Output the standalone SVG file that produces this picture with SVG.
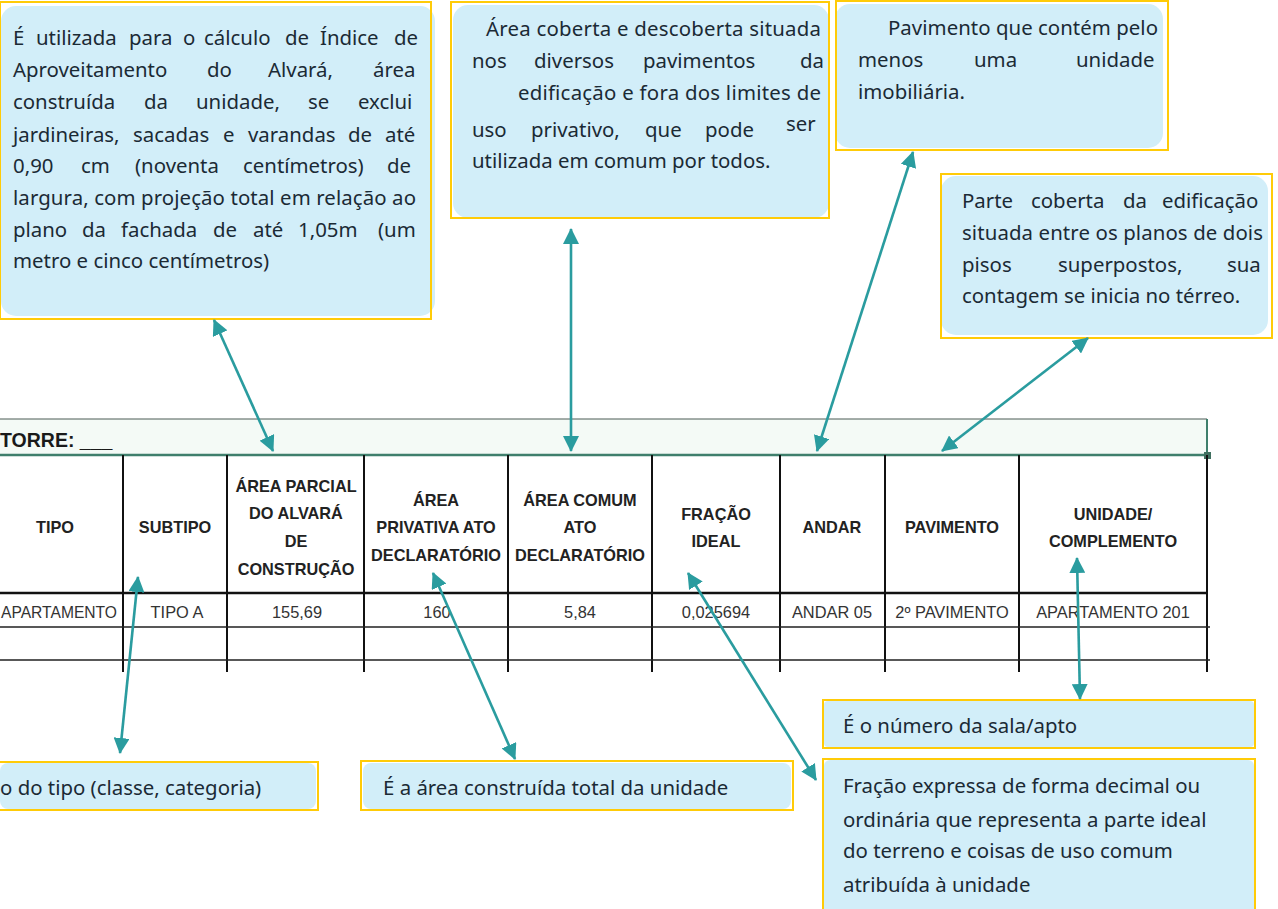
<svg xmlns="http://www.w3.org/2000/svg" width="1278" height="909" viewBox="0 0 1278 909">
<style>
.box{fill:#d2eef9;}
.frame{fill:none;stroke:#ffcb08;stroke-width:2;}
.t{font-family:"Noto Sans","Liberation Sans",sans-serif;font-size:20.4px;fill:#1b2a35;}
.h{font-family:"Liberation Sans",Arial,sans-serif;font-size:16.3px;font-weight:bold;fill:#222;text-anchor:middle;}
.d{font-family:"Liberation Sans",Arial,sans-serif;font-size:16.4px;fill:#333;text-anchor:middle;}
.g{stroke:#111;stroke-width:2;fill:none;}
.g2{stroke:#222;stroke-width:1.4;fill:none;}
.arr{stroke:#2a9c9f;stroke-width:2.6;fill:none;marker-start:url(#ah);marker-end:url(#ah);}
</style>
<defs>
<marker id="ah" viewBox="0 0 16 16" refX="15" refY="8" markerWidth="16" markerHeight="16" markerUnits="userSpaceOnUse" orient="auto-start-reverse">
<path d="M0,0 L16,8 L0,16 z" fill="#2a9c9f"/>
</marker>
</defs>
<rect width="1278" height="909" fill="#ffffff"/>

<g id="table">
<rect x="0" y="419" width="1207" height="36" fill="#f4faf6"/>
<line x1="0" y1="419" x2="1207" y2="419" stroke="#4a5a55" stroke-width="1"/>
<text x="0" y="447" font-family="Liberation Sans,Arial,sans-serif" font-size="19.5" font-weight="bold" fill="#1a1a1a">TORRE: ___</text>
<line x1="0" y1="455" x2="1207" y2="455" stroke="#3f7f6c" stroke-width="2.5"/>
<line x1="1207" y1="419" x2="1207" y2="455" stroke="#3f7f6c" stroke-width="2"/>
<rect x="1204" y="452" width="7" height="7" fill="#3f6f5f"/>
<path class="g" d="M123,455V672M227,455V672M364,455V672M508,455V672M652,455V672M780,455V672M885,455V672M1019,455V672M1207,455V672"/>
<line x1="0" y1="593" x2="1207" y2="593" stroke="#111" stroke-width="2.6"/>
<path class="g2" d="M0,627H1210M0,660H1210"/>
<text class="h" x="55" y="533">TIPO</text>
<text class="h" x="175" y="533">SUBTIPO</text>
<text class="h" x="296" y="492">ÁREA PARCIAL</text>
<text class="h" x="296" y="519">DO ALVARÁ</text>
<text class="h" x="296" y="547">DE</text>
<text class="h" x="296" y="575">CONSTRUÇÃO</text>
<text class="h" x="436" y="506">ÁREA</text>
<text class="h" x="436" y="533">PRIVATIVA ATO</text>
<text class="h" x="436" y="561">DECLARATÓRIO</text>
<text class="h" x="580" y="506">ÁREA COMUM</text>
<text class="h" x="580" y="533">ATO</text>
<text class="h" x="580" y="561">DECLARATÓRIO</text>
<text class="h" x="716" y="520">FRAÇÃO</text>
<text class="h" x="716" y="547">IDEAL</text>
<text class="h" x="832" y="533">ANDAR</text>
<text class="h" x="952" y="533">PAVIMENTO</text>
<text class="h" x="1113" y="520">UNIDADE/</text>
<text class="h" x="1113" y="547">COMPLEMENTO</text>
<text class="d" x="1" y="618" style="text-anchor:start" textLength="116" lengthAdjust="spacingAndGlyphs">APARTAMENTO</text>
<text class="d" x="177" y="618">TIPO A</text>
<text class="d" x="297" y="618">155,69</text>
<text class="d" x="437" y="618">160</text>
<text class="d" x="580" y="618">5,84</text>
<text class="d" x="716" y="618">0,025694</text>
<text class="d" x="832" y="618">ANDAR 05</text>
<text class="d" x="952" y="618">2º PAVIMENTO</text>
<text class="d" x="1113" y="618">APARTAMENTO 201</text>
</g>

<g id="box-alvara">
<rect class="box" x="1" y="6" width="434" height="310" rx="15"/>
<rect class="frame" x="0" y="2" width="431" height="317"/>
<text class="t" y="45"><tspan x="13">É</tspan><tspan x="36">utilizada</tspan><tspan x="129">para</tspan><tspan x="183">o</tspan><tspan x="204">cálculo</tspan><tspan x="285">de</tspan><tspan x="320">Índice</tspan><tspan x="394">de</tspan></text>
<text class="t" y="77"><tspan x="13">Aproveitamento</tspan><tspan x="207">do</tspan><tspan x="268">Alvará,</tspan><tspan x="373">área</tspan></text>
<text class="t" y="109"><tspan x="13">construída</tspan><tspan x="144">da</tspan><tspan x="196">unidade,</tspan><tspan x="308">se</tspan><tspan x="358">exclui</tspan></text>
<text class="t" y="142"><tspan x="13">jardineiras,</tspan><tspan x="133">sacadas</tspan><tspan x="223">e</tspan><tspan x="248">varandas</tspan><tspan x="348">de</tspan><tspan x="385">até</tspan></text>
<text class="t" y="173"><tspan x="13">0,90</tspan><tspan x="81">cm</tspan><tspan x="135">(noventa</tspan><tspan x="243">centímetros)</tspan><tspan x="387">de</tspan></text>
<text class="t" x="13" y="205" textLength="403" lengthAdjust="spacing">largura, com projeção total em relação ao</text>
<text class="t" y="237"><tspan x="13">plano</tspan><tspan x="82">da</tspan><tspan x="121">fachada</tspan><tspan x="213">de</tspan><tspan x="253">até</tspan><tspan x="298">1,05m</tspan><tspan x="378">(um</tspan></text>
<text class="t" x="13" y="268">metro e cinco centímetros)</text>
</g>

<g id="box-comum">
<rect class="box" x="453" y="5" width="376" height="213" rx="15"/>
<rect class="frame" x="451" y="2" width="378" height="216"/>
<text class="t" x="486" y="36" textLength="335" lengthAdjust="spacing">Área coberta e descoberta situada</text>
<text class="t" y="68"><tspan x="472">nos</tspan><tspan x="534">diversos</tspan><tspan x="643">pavimentos</tspan><tspan x="800">da</tspan></text>
<text class="t" x="518" y="100" textLength="303" lengthAdjust="spacing">edificação e fora dos limites de</text>
<text class="t" y="137"><tspan x="472">uso</tspan><tspan x="531">privativo,</tspan><tspan x="645">que</tspan><tspan x="705">pode</tspan><tspan x="786" y="131">ser</tspan></text>
<text class="t" x="472" y="168">utilizada em comum por todos.</text>
</g>

<g id="box-andar">
<rect class="box" x="835" y="4" width="328" height="144" rx="15"/>
<rect class="frame" x="836" y="1" width="332" height="149"/>
<text class="t" x="888" y="35" textLength="270" lengthAdjust="spacing">Pavimento que contém pelo</text>
<text class="t" y="67"><tspan x="858">menos</tspan><tspan x="974">uma</tspan><tspan x="1076">unidade</tspan></text>
<text class="t" x="858" y="99">imobiliária.</text>
</g>

<g id="box-pavimento">
<rect class="box" x="941" y="176" width="327" height="159" rx="15"/>
<rect class="frame" x="941" y="174" width="331" height="164"/>
<text class="t" y="208"><tspan x="962">Parte</tspan><tspan x="1031">coberta</tspan><tspan x="1123">da</tspan><tspan x="1162">edificação</tspan></text>
<text class="t" x="962" y="240" textLength="301" lengthAdjust="spacing">situada entre os planos de dois</text>
<text class="t" y="272"><tspan x="962">pisos</tspan><tspan x="1058">superpostos,</tspan><tspan x="1227">sua</tspan></text>
<text class="t" x="962" y="303">contagem se inicia no térreo.</text>
</g>

<g id="box-subtipo">
<rect class="box" x="0" y="763" width="316" height="46" rx="8"/>
<rect class="frame" x="-1" y="762" width="319" height="48"/>
<text class="t" x="0" y="795">o do tipo (classe, categoria)</text>
</g>

<g id="box-privativa">
<rect class="box" x="363" y="763" width="428" height="46" rx="8"/>
<rect class="frame" x="361" y="761" width="432" height="49"/>
<text class="t" x="383" y="795">É a área construída total da unidade</text>
</g>

<g id="box-unidade">
<rect class="box" x="824" y="701" width="430" height="46" rx="4"/>
<rect class="frame" x="823" y="700" width="432" height="48"/>
<text class="t" x="843" y="733">É o número da sala/apto</text>
</g>

<g id="box-fracao">
<rect class="box" x="824" y="760" width="430" height="160" rx="6"/>
<rect class="frame" x="823" y="759" width="432" height="160"/>
<text class="t" x="843" y="793">Fração expressa de forma decimal ou</text>
<text class="t" x="843" y="827">ordinária que representa a parte ideal</text>
<text class="t" x="843" y="858">do terreno e coisas de uso comum</text>
<text class="t" x="843" y="892">atribuída à unidade</text>
</g>

<g id="connectors">
<line class="arr" x1="214" y1="320" x2="273" y2="451"/>
<line class="arr" x1="571" y1="229" x2="571" y2="451"/>
<line class="arr" x1="913" y1="152" x2="817" y2="451"/>
<line class="arr" x1="1088" y1="338" x2="942" y2="451"/>
<line class="arr" x1="138" y1="577" x2="120" y2="753"/>
<line class="arr" x1="433" y1="573" x2="515" y2="759"/>
<line class="arr" x1="688" y1="573" x2="816" y2="780"/>
<line class="arr" x1="1077" y1="558" x2="1080" y2="699"/>
</g>
</svg>
